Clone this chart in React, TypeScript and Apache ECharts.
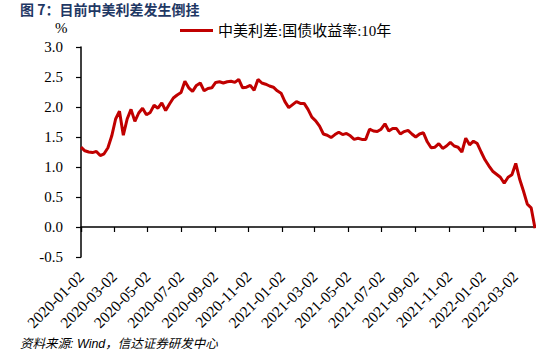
import React, { useEffect, useRef } from 'react';
import * as echarts from 'echarts';

// Weekly samples of the spread, starting 2020-01-02
const startDate = '2020-01-02';
const stepDays = 7;
const spreadValues = [
  1.33, 1.27, 1.25, 1.24, 1.26, 1.19, 1.22, 1.32, 1.52, 1.80,
  1.93, 1.53, 1.80, 1.96, 1.76, 1.90, 1.98, 1.87, 1.91, 2.03,
  1.98, 2.07, 1.94, 2.05, 2.15, 2.20, 2.24, 2.43, 2.32, 2.26,
  2.36, 2.40, 2.27, 2.31, 2.32, 2.41, 2.42, 2.40, 2.42, 2.43,
  2.41, 2.46, 2.32, 2.33, 2.36, 2.28, 2.46, 2.40, 2.38, 2.35,
  2.33, 2.27, 2.23, 2.09, 1.99, 2.04, 2.09, 2.06, 2.06, 1.96,
  1.83, 1.77, 1.68, 1.55, 1.53, 1.49, 1.54, 1.58, 1.54, 1.56,
  1.52, 1.46, 1.48, 1.46, 1.46, 1.63, 1.60, 1.59, 1.63, 1.72,
  1.60, 1.64, 1.64, 1.55, 1.59, 1.61, 1.55, 1.50, 1.55, 1.57,
  1.42, 1.32, 1.33, 1.39, 1.31, 1.35, 1.41, 1.35, 1.33, 1.25,
  1.48, 1.37, 1.43, 1.39, 1.25, 1.12, 1.02, 0.93, 0.88, 0.83,
  0.73, 0.83, 0.87, 1.06, 0.80, 0.60, 0.38, 0.32, -0.02,
];

const tickDates = [
  '2020-01-02', '2020-03-02', '2020-05-02', '2020-07-02', '2020-09-02',
  '2020-11-02', '2021-01-02', '2021-03-02', '2021-05-02', '2021-07-02',
  '2021-09-02', '2021-11-02', '2022-01-02', '2022-03-02',
];

const seriesName = '中美利差:国债收益率:10年';
const titleText = '图 7：目前中美利差发生倒挂';
const unitText = '%';
const sourceText = '资料来源: Wind，信达证券研发中心';

const yMin = -0.5;
const yMax = 3.0;
const yInterval = 0.5;

function parseLocal(s: string, addDays = 0): number {
  const [y, m, d] = s.split('-').map(Number);
  return new Date(y, m - 1, d + addDays).getTime();
}

export default function App() {
  const ref = useRef<HTMLDivElement>(null);

  useEffect(() => {
    if (!ref.current) return;
    const chart = echarts.init(ref.current, undefined, { renderer: 'svg' });

    const data = spreadValues.map((v, i) => [parseLocal(startDate, i * stepDays), v]);
    const tickTs = tickDates.map((s) => parseLocal(s));
    const xMin = data[0][0];
    const xMax = data[data.length - 1][0];

    const serif = '"Liberation Serif", "Times New Roman", "Noto Sans CJK SC", serif';

    chart.setOption({
      animation: false,
      backgroundColor: '#ffffff',
      grid: { left: 81, right: 1, top: 47, bottom: 97, containLabel: false },
      legend: {
        data: [seriesName],
        left: 175,
        top: 18,
        icon: 'rect',
        itemWidth: 33,
        itemHeight: 3,
        itemGap: 10,
        textStyle: { fontSize: 15, fontFamily: serif, color: '#000' },
      },
      xAxis: [
        {
          type: 'time',
          position: 'bottom',
          min: xMin,
          max: xMax,
          axisLine: { show: false, onZero: false },
          axisTick: { show: false },
          splitLine: { show: false },
          axisLabel: {
            customValues: tickTs,
            rotate: 45,
            formatter: '{yyyy}-{MM}-{dd}',
            fontSize: 15.5,
            fontFamily: serif,
            color: '#000',
            margin: 17,
            hideOverlap: false,
          },
        },
        {
          type: 'time',
          position: 'top',
          min: xMin,
          max: xMax,
          axisLine: { show: true, onZero: true, lineStyle: { color: '#000', width: 1.5 } },
          axisTick: {
            show: true,
            inside: true,
            length: 5,
            customValues: tickTs,
            lineStyle: { color: '#000', width: 1.2 },
          },
          axisLabel: { show: false },
          splitLine: { show: false },
        },
      ],
      yAxis: {
        type: 'value',
        min: yMin,
        max: yMax,
        interval: yInterval,
        axisLine: { show: true, onZero: false, lineStyle: { color: '#000', width: 1.5 } },
        axisTick: { show: true, length: 5, lineStyle: { color: '#000', width: 1.2 } },
        splitLine: { show: false },
        axisLabel: {
          formatter: (v: number) => v.toFixed(1),
          fontSize: 15,
          fontFamily: serif,
          color: '#000',
          margin: 18,
        },
      },
      series: [
        {
          name: seriesName,
          type: 'line',
          xAxisIndex: 0,
          yAxisIndex: 0,
          data,
          showSymbol: false,
          symbol: 'none',
          itemStyle: { color: '#C00000' },
          lineStyle: { color: '#C00000', width: 3 },
        },
      ],
      graphic: [
        {
          type: 'text',
          left: 20,
          top: 2,
          style: {
            text: titleText,
            font: 'bold 14px "Noto Sans CJK SC", sans-serif',
            fill: '#1F3864',
          },
        },
        {
          type: 'text',
          left: 55,
          top: 20,
          style: { text: unitText, font: '15px ' + serif, fill: '#000' },
        },
        {
          type: 'text',
          left: 20,
          top: 338,
          style: {
            text: sourceText,
            font: 'italic 12.5px "Liberation Sans", Arial, "Noto Sans CJK SC", sans-serif',
            fill: '#000',
          },
        },
      ],
    });

    return () => chart.dispose();
  }, []);

  return (
    <div
      ref={ref}
      style={{ position: 'fixed', left: 0, top: 0, width: 536, height: 354, background: '#fff' }}
    />
  );
}
